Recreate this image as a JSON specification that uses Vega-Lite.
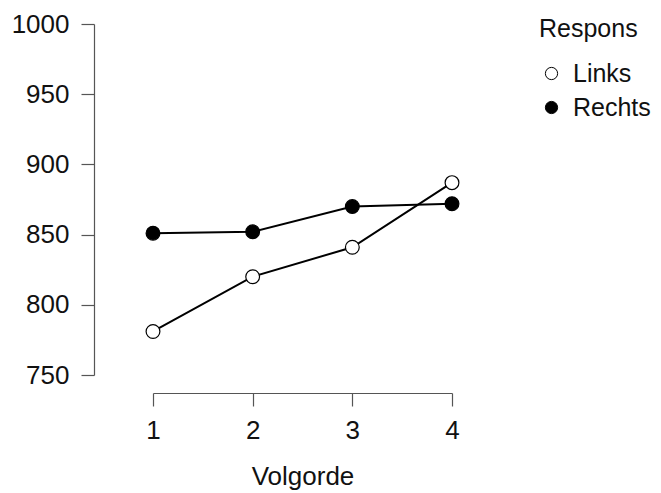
{
  "$schema": "https://vega.github.io/schema/vega-lite/v6.json",
  "width": 299,
  "height": 351,
  "autosize": "none",
  "padding": {"left": 153, "top": 24, "right": 209, "bottom": 118},
  "background": "white",
  "data": {
    "values": [
      {"Volgorde": 1, "Respons": "Links", "RT": 781},
      {"Volgorde": 2, "Respons": "Links", "RT": 820},
      {"Volgorde": 3, "Respons": "Links", "RT": 841},
      {"Volgorde": 4, "Respons": "Links", "RT": 887},
      {"Volgorde": 1, "Respons": "Rechts", "RT": 851},
      {"Volgorde": 2, "Respons": "Rechts", "RT": 852},
      {"Volgorde": 3, "Respons": "Rechts", "RT": 870},
      {"Volgorde": 4, "Respons": "Rechts", "RT": 872}
    ]
  },
  "encoding": {
    "x": {
      "field": "Volgorde", "type": "quantitative",
      "scale": {"domain": [1, 4], "nice": false, "zero": false},
      "axis": {"values": [1, 2, 3, 4], "offset": 18, "grid": false, "title": "Volgorde",
               "tickSize": 13, "labelPadding": 11, "titlePadding": 20, "format": "d", "labelFlush": false}
    },
    "y": {
      "field": "RT", "type": "quantitative",
      "scale": {"domain": [750, 1000], "nice": false, "zero": false},
      "axis": {"values": [750, 800, 850, 900, 950, 1000], "offset": 59, "grid": false, "title": null,
               "tickSize": 13, "labelPadding": 12, "format": "d", "labelFlush": false}
    }
  },
  "layer": [
    {
      "mark": {"type": "line", "color": "black", "strokeWidth": 2},
      "encoding": {"detail": {"field": "Respons"}}
    },
    {
      "mark": {"type": "point", "shape": "circle", "filled": true, "stroke": "black", "strokeWidth": 1.2, "size": 190, "opacity": 1},
      "encoding": {
        "fill": {
          "field": "Respons", "type": "nominal",
          "scale": {"domain": ["Links", "Rechts"], "range": ["white", "black"]},
          "legend": {"title": "Respons", "orient": "none", "legendX": 386, "legendY": -7,
                     "symbolType": "circle", "symbolSize": 150, "symbolStrokeColor": "black", "symbolStrokeWidth": 1,
                     "rowPadding": 8, "titlePadding": 19, "labelOffset": 9}
        }
      }
    }
  ],
  "config": {
    "view": {"stroke": null},
    "font": "Liberation Sans",
    "axis": {
      "domainColor": "#555", "tickColor": "#555", "domainWidth": 1.2, "tickWidth": 1.2,
      "labelFontSize": 26, "titleFontSize": 26, "labelColor": "#111", "titleColor": "#111",
      "titleFontWeight": "normal", "labelFont": "Liberation Sans", "titleFont": "Liberation Sans"
    },
    "legend": {
      "labelFontSize": 25, "titleFontSize": 25, "labelColor": "#111", "titleColor": "#111",
      "titleFontWeight": "normal", "labelFont": "Liberation Sans", "titleFont": "Liberation Sans"
    }
  }
}
